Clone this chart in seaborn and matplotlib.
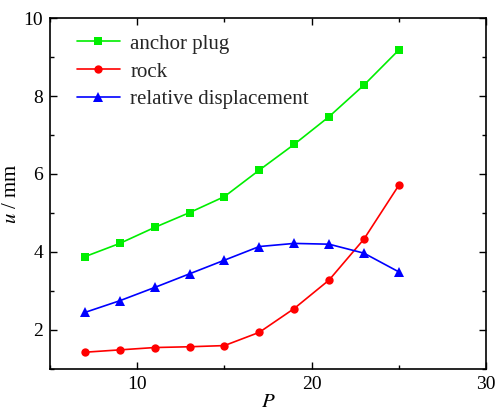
import pandas as pd
import numpy as np
import matplotlib.pyplot as plt
import seaborn as sns
from matplotlib.ticker import MultipleLocator

sns.set_style('ticks')
plt.rcParams['font.family'] = ['Liberation Serif', 'DejaVu Serif']
plt.rcParams['mathtext.fontset'] = 'stix'

# load levels P and displacements u (mm)
P = [7, 9, 11, 13, 15, 17, 19, 21, 23, 25]
anchor_plug = [3.88, 4.22, 4.63, 5.01, 5.42, 6.10, 6.76, 7.47, 8.28, 9.18]
rock = [1.43, 1.49, 1.55, 1.57, 1.60, 1.94, 2.55, 3.28, 4.33, 5.71]
relative = [2.45, 2.75, 3.09, 3.44, 3.79, 4.14, 4.22, 4.20, 3.97, 3.49]

series = ['anchor plug', 'rock', 'relative displacement']
colors = ['#00ee00', '#ff0000', '#0000ff']
markers = ['s', 'o', '^']

data = pd.concat([
    pd.DataFrame({'P': P, 'u': anchor_plug, 'series': series[0]}),
    pd.DataFrame({'P': P, 'u': rock, 'series': series[1]}),
    pd.DataFrame({'P': P, 'u': relative, 'series': series[2]}),
])

fig = plt.figure(figsize=(4.97, 4.12), dpi=100)
ax = fig.add_axes([0.1006, 0.1044, 0.8773, 0.8519])

for name, c, m in zip(series, colors, markers):
    sub = data[data['series'] == name]
    ms = 6.5 if m == '^' else 6
    sns.lineplot(data=sub, x='P', y='u', ax=ax, color=c, marker=m,
                 markersize=ms, markeredgewidth=0, linewidth=1.2, label=name)

ax.set_xlim(5, 30)
ax.set_ylim(1, 10)
ax.xaxis.set_major_locator(MultipleLocator(10))
ax.xaxis.set_minor_locator(MultipleLocator(5))
ax.yaxis.set_major_locator(MultipleLocator(2))
ax.yaxis.set_minor_locator(MultipleLocator(1))
ax.tick_params(which='both', direction='in', top=True, right=True,
               labeltop=False, labelright=False, labelsize=14, width=1,
               colors='black', labelcolor='black', pad=5)
ax.tick_params(which='major', length=5)
ax.tick_params(which='minor', length=3)
for s in ax.spines.values():
    s.set_linewidth(1.2)
    s.set_color('black')

ax.set_xlabel('$P$', fontsize=15, labelpad=0, color='black')
ax.set_ylabel('$u$ / mm', fontsize=15, labelpad=2, color='black')

ax.legend(loc='upper left', frameon=False, fontsize=15, handlelength=2.05,
          handletextpad=0.5, borderaxespad=0, labelspacing=0.4,
          bbox_to_anchor=(0.043, 0.978))

plt.savefig('out.png', dpi=100)
